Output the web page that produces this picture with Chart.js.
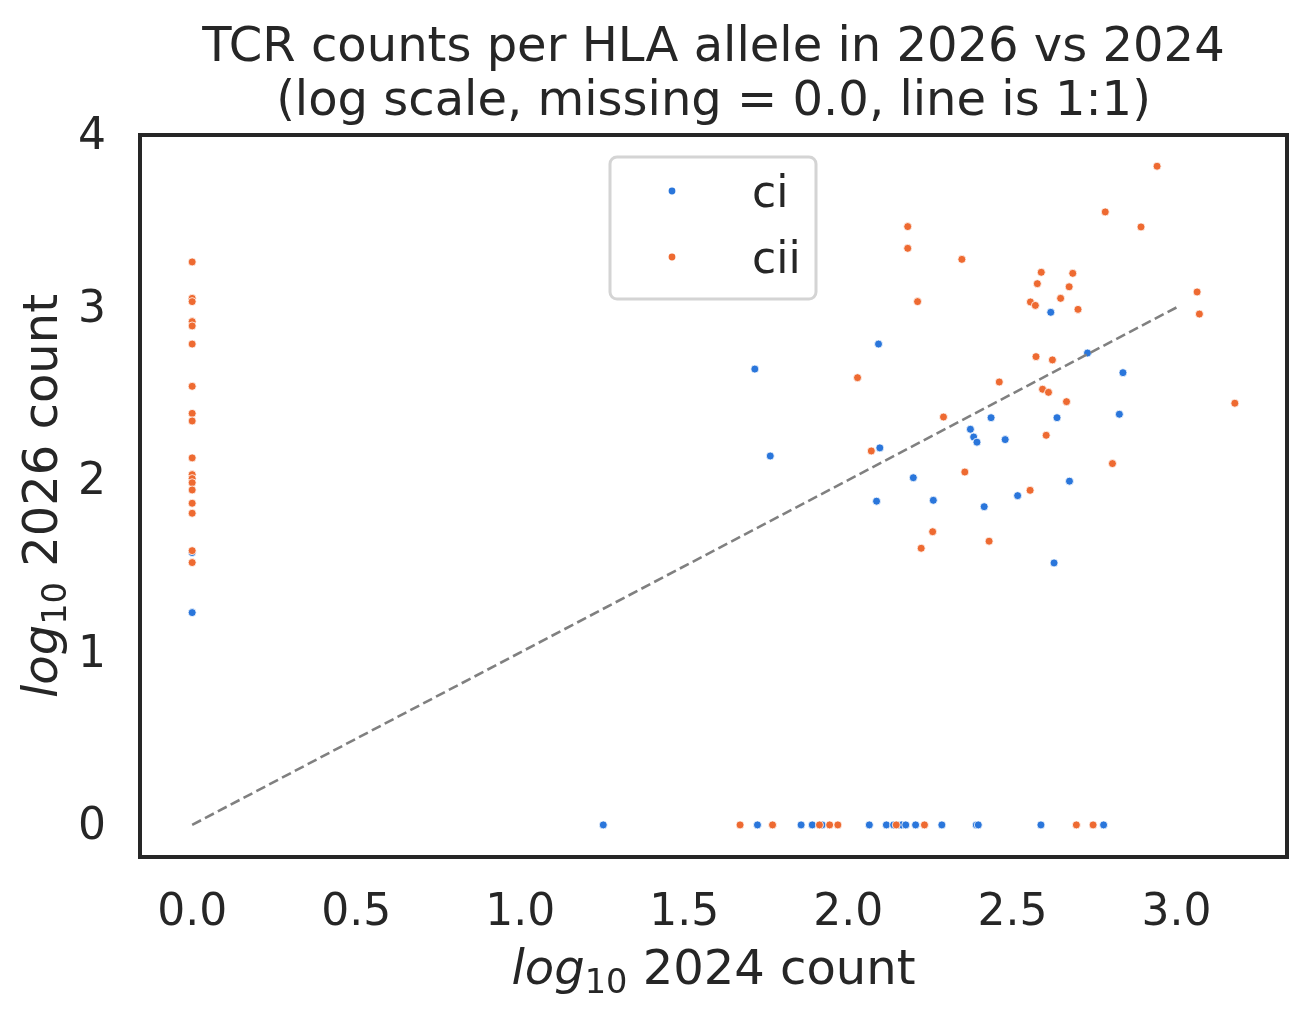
<!DOCTYPE html>
<html>
<head>
<meta charset="utf-8">
<script src="https://cdn.jsdelivr.net/npm/chart.js@4.4.1/dist/chart.umd.min.js"></script>
<style>
  html, body { margin: 0; padding: 0; background: #ffffff; }
  #wrap { position: relative; width: 1305px; height: 1014px; }
</style>
</head>
<body>
<div id="wrap"><canvas id="c"></canvas></div>
<script>
// ---- data (log10 counts; missing = 0.0) ----
const seriesNames = ['ci', 'cii'];
const ciX = [0, 0,
  1.253, 1.723, 1.856, 1.890, 1.920, 2.064, 2.116, 2.138, 2.153, 2.162, 2.175, 2.205, 2.285, 2.390, 2.396, 2.587, 2.778,
  2.092, 1.715, 2.435, 2.372, 2.382, 2.392, 2.478, 2.096, 1.762, 2.198, 2.086, 2.259, 2.414, 2.516, 2.617, 2.729, 2.837, 2.636, 2.826, 2.674, 2.627];
const ciY = [1.579, 1.231,
  0, 0, 0, 0, 0, 0, 0, 0, 0, 0, 0, 0, 0, 0, 0, 0, 0,
  2.788, 2.643, 2.361, 2.294, 2.249, 2.219, 2.234, 2.186, 2.139, 2.013, 1.877, 1.882, 1.845, 1.909, 2.972, 2.736, 2.622, 2.361, 2.381, 1.993, 1.519];
const ciiX = [0, 0, 0, 0, 0, 0, 0, 0, 0, 0, 0, 0, 0, 0, 0, 0, 0, 0,
  1.670, 1.769, 1.912, 1.943, 1.968, 2.146, 2.232, 2.695, 2.746,
  2.211, 2.028, 2.460, 2.290, 2.070, 2.355, 2.257, 2.222, 2.429, 2.941, 2.783, 2.892, 2.181, 2.181, 2.346, 2.588, 2.684,
  2.576, 2.673, 2.647, 2.555, 2.570, 2.700, 3.063, 3.070, 3.178, 2.572, 2.622, 2.592, 2.610, 2.665, 2.603, 2.805, 2.554];
const ciiY = [3.264, 3.053, 3.034, 2.918, 2.893, 2.788, 2.543, 2.386, 2.342, 2.128, 2.031, 2.008, 1.984, 1.942, 1.865, 1.807, 1.590, 1.521,
  0, 0, 0, 0, 0, 0, 0, 0, 0,
  3.034, 2.593, 2.568, 2.365, 2.168, 2.046, 1.700, 1.604, 1.645, 3.819, 3.554, 3.467, 3.469, 3.343, 3.279, 3.204, 3.198,
  3.138, 3.120, 3.053, 3.032, 3.012, 2.989, 3.090, 2.962, 2.445, 2.715, 2.696, 2.526, 2.508, 2.454, 2.259, 2.095, 1.940];
const lineX = [0, 3];
const lineY = [0, 3];
const xTicks = [0, 0.5, 1.0, 1.5, 2.0, 2.5, 3.0];
const yTicks = [0, 1, 2, 3, 4];
const titleLines = ['TCR counts per HLA allele in 2026 vs 2024', '(log scale, missing = 0.0, line is 1:1)'];

const BLUE = '#2a76db';
const ORANGE = '#ee6a31';
const INK = '#262626';
const FONT = "'DejaVu Sans'";

const toPts = (xs, ys) => xs.map((x, i) => ({ x: x, y: ys[i] }));

function drawLogLabel(ctx, rest, x, y, rotate) {
  ctx.save();
  ctx.translate(x, y);
  if (rotate) ctx.rotate(-Math.PI / 2);
  ctx.fillStyle = INK;
  ctx.textBaseline = 'alphabetic';
  ctx.textAlign = 'left';
  const fLog = "italic 48px " + FONT, fSub = "33.6px " + FONT, fRest = "48px " + FONT;
  ctx.font = fLog; const w1 = ctx.measureText('log').width;
  ctx.font = fSub; const w2 = ctx.measureText('10').width;
  ctx.font = fRest; const w3 = ctx.measureText(rest).width;
  let cx = -(w1 + w2 + w3) / 2;
  ctx.font = fLog; ctx.fillText('log', cx, 0); cx += w1;
  ctx.font = fSub; ctx.fillText('10', cx, 9); cx += w2;
  ctx.font = fRest; ctx.fillText(rest, cx, 0);
  ctx.restore();
}

const decorations = {
  id: 'decorations',
  afterDatasetsDraw(chart) {
    const ctx = chart.ctx, a = chart.chartArea;
    // frame
    ctx.save();
    ctx.strokeStyle = INK;
    ctx.lineWidth = 4;
    ctx.strokeRect(a.left, a.top, a.right - a.left, a.bottom - a.top);
    ctx.restore();
    // title
    ctx.save();
    ctx.fillStyle = INK;
    ctx.font = "48px " + FONT;
    ctx.textAlign = 'center';
    ctx.textBaseline = 'alphabetic';
    const cx = (a.left + a.right) / 2;
    ctx.fillText(titleLines[0], cx, 61);
    ctx.fillText(titleLines[1], cx, 115);
    ctx.restore();
    // axis titles
    drawLogLabel(ctx, ' 2024 count', cx, 984, false);
    drawLogLabel(ctx, ' 2026 count', 57, (a.top + a.bottom) / 2, true);
    // legend
    ctx.save();
    const lx = 610, ly = 157, lw = 206, lh = 142, r = 7;
    ctx.beginPath();
    ctx.moveTo(lx + r, ly);
    ctx.arcTo(lx + lw, ly, lx + lw, ly + lh, r);
    ctx.arcTo(lx + lw, ly + lh, lx, ly + lh, r);
    ctx.arcTo(lx, ly + lh, lx, ly, r);
    ctx.arcTo(lx, ly, lx + lw, ly, r);
    ctx.closePath();
    ctx.fillStyle = 'rgba(255,255,255,0.8)';
    ctx.fill();
    ctx.strokeStyle = '#d4d4d4';
    ctx.lineWidth = 3;
    ctx.stroke();
    const items = [[seriesNames[0], BLUE, 191, 207], [seriesNames[1], ORANGE, 257, 273]];
    ctx.font = "44px " + FONT;
    ctx.textAlign = 'left';
    ctx.textBaseline = 'alphabetic';
    items.forEach(it => {
      ctx.beginPath();
      ctx.arc(672, it[2], 3.4, 0, Math.PI * 2);
      ctx.fillStyle = it[1];
      ctx.fill();
      ctx.fillStyle = INK;
      ctx.fillText(it[0], 752, it[3]);
    });
    ctx.restore();
  }
};

new Chart(document.getElementById('c'), {
  type: 'scatter',
  data: {
    datasets: [
      {
        type: 'line', label: '1:1', data: toPts(lineX, lineY),
        borderColor: '#808080', borderWidth: 2.6, borderDash: [10, 4.5],
        pointRadius: 0, fill: false, order: 0
      },
      {
        label: seriesNames[1], data: toPts(ciiX, ciiY),
        backgroundColor: ORANGE, borderColor: '#ffffff', borderWidth: 0.8,
        pointRadius: 4, order: 1
      },
      {
        label: seriesNames[0], data: toPts(ciX, ciY),
        backgroundColor: BLUE, borderColor: '#ffffff', borderWidth: 0.8,
        pointRadius: 4, order: 2
      }
    ]
  },
  options: {
    responsive: true,
    maintainAspectRatio: false,
    animation: false,
    events: [],
    layout: { padding: { top: 135, right: 18, left: 0, bottom: 0 } },
    plugins: { legend: { display: false }, title: { display: false }, tooltip: { enabled: false } },
    scales: {
      x: {
        type: 'linear', min: -0.159, max: 3.337,
        grid: { display: false, drawTicks: false },
        border: { display: false },
        afterBuildTicks: s => { s.ticks = xTicks.map(v => ({ value: v })); },
        afterFit: s => { s.height = 157; },
        ticks: {
          font: { family: 'DejaVu Sans', size: 44 }, color: INK, padding: 30,
          maxRotation: 0, autoSkip: false,
          callback: v => Number(v).toFixed(1)
        }
      },
      y: {
        type: 'linear', min: -0.186, max: 4.0,
        grid: { display: false, drawTicks: false },
        border: { display: false },
        afterBuildTicks: s => { s.ticks = yTicks.map(v => ({ value: v })); },
        afterFit: s => { s.width = 140; },
        ticks: {
          font: { family: 'DejaVu Sans', size: 44 }, color: INK, padding: 34,
          labelOffset: 3, autoSkip: false,
          callback: v => String(v)
        }
      }
    }
  },
  plugins: [decorations]
});
</script>
</body>
</html>
